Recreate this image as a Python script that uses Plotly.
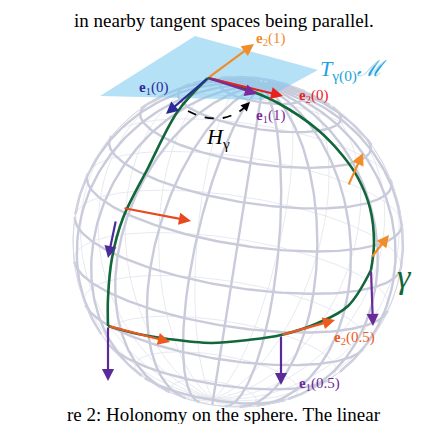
import numpy as np
import plotly.graph_objects as go

# ---------- sphere setup (picture pixel coordinates) ----------
sphere_center = (230, 234)
sphere_radius = 165
tilt_deg = 16
roll_deg = -9
grid_step_deg = 15

# ---------- curve gamma and tangent plane ----------
gamma_left_x = [200, 170, 140, 115, 104, 100, 100]
gamma_left_y = [70, 103, 160, 210, 250, 290, 318]
gamma_bottom_x = [100, 130, 160, 203, 240, 273, 310, 340, 363]
gamma_bottom_y = [318, 326, 331, 335, 332, 327, 315, 298, 262]
gamma_right_x = [363, 366, 362, 350, 335, 310, 270, 235, 200]
gamma_right_y = [262, 235, 200, 170, 148, 122, 95, 80, 70]
plane_x = [92, 187, 310, 255, 92]
plane_y = [88, 28, 62, 92, 88]
holonomy_x = [180, 195, 215, 232, 242]
holonomy_y = [103, 109, 110, 103, 94]

# ---------- arrows ----------
arrow_x0 = [200, 200, 200, 200, 115, 108, 340, 363, 363, 100, 100, 273, 273]
arrow_y0 = [70, 70, 70, 70, 200, 212, 178, 262, 250, 318, 318, 327, 327]
arrow_x1 = [246, 275, 249, 158, 183, 100, 355, 365, 381, 162, 100, 327, 273]
arrow_y1 = [36, 88, 86, 106, 213, 250, 145, 318, 227, 334, 373, 312, 377]
arrow_col = ['#f28c28', '#e8211e', '#7a2a9a', '#2c2a9a', '#e8481e', '#4b2a9a', '#f28c28',
             '#6a2a9a', '#f28c28', '#ee5a1e', '#5a2a9a', '#ee5a1e', '#5a2a9a']

# ---------- labels ----------
label_text = ['<b>e</b><sub>2</sub>(1)', '<b>e</b><sub>2</sub>(0)', '<b>e</b><sub>1</sub>(1)',
              '<b>e</b><sub>1</sub>(0)', '<i>H</i><sub>γ</sub>', '<i>T</i><sub>γ(0)</sub><i>ℳ</i>',
              '<i>γ</i>', '<b>e</b><sub>2</sub>(0.5)', '<b>e</b><sub>1</sub>(0.5)']
label_x = [262, 305, 262, 145, 210, 345, 396, 346, 311]
label_y = [31, 88, 108, 80, 130, 62, 268, 330, 376]
label_col = ['#f28c28', '#e8211e', '#7a2a9a', '#2c2a9a', 'black', '#1ea3dc', '#11663a', '#ee5a1e', '#6a2a9a']
label_size = [15, 15, 15, 15, 22, 22, 34, 15, 15]


def project(lat, lon):
    x = np.cos(lat) * np.cos(lon)
    y = np.sin(lat)
    z = np.cos(lat) * np.sin(lon)
    t = np.radians(tilt_deg)
    y2 = y * np.cos(t) - z * np.sin(t)
    z2 = y * np.sin(t) + z * np.cos(t)
    r = np.radians(roll_deg)
    xs = x * np.cos(r) - y2 * np.sin(r)
    ys = x * np.sin(r) + y2 * np.cos(r)
    return sphere_center[0] + sphere_radius * xs, sphere_center[1] - sphere_radius * ys, z2


front_x, front_y, back_x, back_y = [], [], [], []
s = np.linspace(0, 2 * np.pi, 240)
curves = []
for lat in np.radians(np.arange(-90 + grid_step_deg, 90, grid_step_deg)):
    curves.append(project(np.full_like(s, lat), s))
for lon in np.radians(np.arange(0, 180, grid_step_deg)):
    curves.append(project(np.arcsin(np.sin(s)), lon + np.where(np.cos(s) < 0, np.pi, 0)))
for px, py, pz in curves:
    front_x += list(np.where(pz >= 0, px, np.nan)) + [None]
    front_y += list(np.where(pz >= 0, py, np.nan)) + [None]
    back_x += list(np.where(pz < 0, px, np.nan)) + [None]
    back_y += list(np.where(pz < 0, py, np.nan)) + [None]

outline = np.linspace(0, 2 * np.pi, 200)

fig = go.Figure()
fig.add_trace(go.Scatter(x=back_x, y=back_y, mode='lines', line=dict(color='#e2e3ec', width=0.8)))
fig.add_trace(go.Scatter(x=front_x, y=front_y, mode='lines', line=dict(color='#c9cbdb', width=2.4)))
fig.add_trace(go.Scatter(x=sphere_center[0] + sphere_radius * np.cos(outline),
                         y=sphere_center[1] + sphere_radius * np.sin(outline),
                         mode='lines', line=dict(color='#d6d7e4', width=1)))
fig.add_trace(go.Scatter(x=plane_x, y=plane_y, fill='toself', mode='lines',
                         fillcolor='rgba(120,200,240,0.55)', line=dict(width=0)))
for gx, gy in [(gamma_left_x, gamma_left_y), (gamma_bottom_x, gamma_bottom_y), (gamma_right_x, gamma_right_y)]:
    fig.add_trace(go.Scatter(x=gx, y=gy, mode='lines', line=dict(color='#11663a', width=2.6, shape='spline')))
fig.add_trace(go.Scatter(x=holonomy_x, y=holonomy_y, mode='lines',
                         line=dict(color='black', width=1.8, dash='dash', shape='spline')))

for x0, y0, x1, y1, c in zip(arrow_x0, arrow_y0, arrow_x1, arrow_y1, arrow_col):
    fig.add_annotation(x=x1, y=y1, ax=x0, ay=y0, xref='x', yref='y', axref='x', ayref='y',
                       showarrow=True, arrowhead=2, arrowsize=1.1, arrowwidth=2.2, arrowcolor=c, text='')
fig.add_annotation(x=242, y=94, ax=236, ay=100, xref='x', yref='y', axref='x', ayref='y',
                   showarrow=True, arrowhead=2, arrowsize=1, arrowwidth=1.8, arrowcolor='black', text='')

for t, x, y, c, sz in zip(label_text, label_x, label_y, label_col, label_size):
    fig.add_annotation(x=x, y=y, text=t, showarrow=False, font=dict(color=c, size=sz, family='Liberation Serif'))

fig.add_annotation(x=0.5, y=1.0, xref='paper', yref='paper', yanchor='top', xanchor='center',
                   text='in nearby tangent spaces being parallel.', showarrow=False,
                   font=dict(size=19, family='Liberation Serif', color='black'))
fig.add_annotation(x=0.5, y=0.0, xref='paper', yref='paper', yanchor='bottom', xanchor='center', yshift=5,
                   text='re 2: Holonomy on the sphere. The linear', showarrow=False,
                   font=dict(size=19, family='Liberation Serif', color='black'))

fig.update_layout(width=432, height=424, margin=dict(l=0, r=0, t=0, b=0), showlegend=False,
                  plot_bgcolor='white', paper_bgcolor='white',
                  xaxis=dict(range=[0, 432], visible=False),
                  yaxis=dict(range=[424, 0], visible=False))
fig.write_html("out.html")
